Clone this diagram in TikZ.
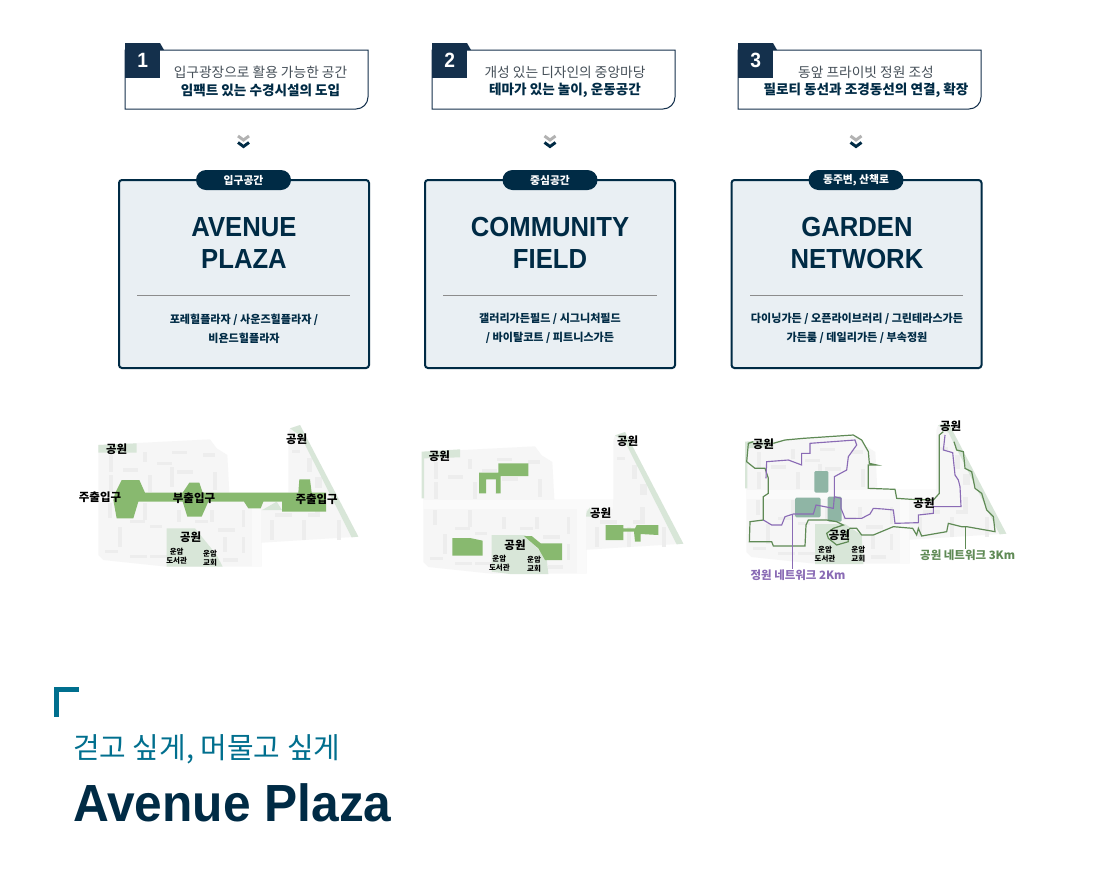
\documentclass[tikz,border=0pt]{standalone}
\usepackage{fontspec}
\setmainfont{Noto Sans CJK KR}
\newfontfamily\latinb[FakeStretch=0.93]{Liberation Sans}
\newfontfamily\latinh[FakeStretch=0.95]{Liberation Sans}
\usetikzlibrary{calc}
\definecolor{navy}{HTML}{002B45}
\definecolor{sqnavy}{HTML}{14304C}
\definecolor{panel}{HTML}{E9EFF3}
\definecolor{teal}{HTML}{006F8E}
\definecolor{sitegray}{HTML}{F6F6F6}
\definecolor{roadgray}{HTML}{FAFAFA}
\definecolor{bldgray}{HTML}{EDEDED}
\definecolor{parkgreen}{HTML}{D8E6D8}
\definecolor{areagreen}{HTML}{88B96F}
\definecolor{tealarea}{HTML}{8FB5A5}
\definecolor{netgreen}{HTML}{5F8A55}
\definecolor{netpurple}{HTML}{8A6BB5}
\definecolor{textgray}{HTML}{454F58}
\tikzset{
  callbox/.style={draw=sqnavy,line width=.75pt,fill=white},
  numsq/.style={fill=sqnavy,text=white,inner sep=0,minimum width=26.25pt,minimum height=26.25pt,font=\latinb\bfseries\fontsize{15.5}{15.5}\selectfont},
  callone/.style={text=textgray,inner sep=0,font=\fontsize{10.3}{12}\selectfont},
  calltwo/.style={text=navy,inner sep=0,font=\bfseries\fontsize{10.2}{12}\selectfont},
  card/.style={draw=navy,line width=1.5pt,fill=panel,rounded corners=2.2pt,inner sep=0,minimum width=187.5pt,minimum height=141pt},
  pill/.style={fill=navy,text=white,rounded corners=7.5pt,inner sep=0,minimum width=71.25pt,minimum height=15pt,font=\bfseries\fontsize{8.1}{10}\selectfont},
  cardtitle/.style={text=navy,inner sep=0,align=center,font=\latinb\bfseries\fontsize{20.7}{24.4}\selectfont},
  cardbody/.style={text=navy,inner sep=0,align=center,font=\bfseries\fontsize{8.3}{14.2}\selectfont},
  seprule/.style={draw=black!45,line width=.6pt},
  maplabel/.style={text=black,inner sep=0,font=\bfseries\fontsize{8.6}{10}\selectfont},
  maptiny/.style={text=black,inner sep=0,align=center,font=\bfseries\fontsize{5.6}{7}\selectfont},
  park/.style={fill=parkgreen},
  area/.style={fill=areagreen},
  tarea/.style={fill=tealarea,rounded corners=1pt},
  netg/.style={draw=netgreen,line width=.9pt},
  netp/.style={draw=netpurple,line width=.85pt},
  chevtop/.style={draw=black!30,line width=2.2pt},
  chevbot/.style={draw=navy,line width=2.2pt},
  zoomc/.style={x=.25pt,y=-.25pt}
}
\newcommand{\callout}[5]{% x, n, centre, line1, line2
  \path[callbox] (#1,50) -- (#1+243,50) -- (#1+243,97) arc[start angle=0,end angle=90,x radius=9pt,y radius=-9pt] -- (#1,109) -- cycle;
  \fill[sqnavy] (#1+35,43) -- (#1+39,50) -- (#1+35,50) -- cycle;
  \node[numsq,anchor=north west] (num#2) at (#1,43) {#2};
  \node[callone] (callA#2) at (#3,72) {#4};
  \node[calltwo] (callB#2) at (#3,90) {#5};
}
\newcommand{\chevrons}[1]{%
  \draw[chevtop] (#1-5.5,136) -- (#1,140) -- (#1+5.5,136);
  \draw[chevbot] (#1-5.5,142.5) -- (#1,146.5) -- (#1+5.5,142.5);
}
\newcommand{\basemap}[2]{%
 \begin{scope}[shift={(#1,#2)},zoomc]
  \fill[sitegray] (85,75) -- (420,58) -- (440,85) -- (472,105) -- (478,218) -- (655,218) -- (655,40) -- (660,25) -- (690,15) -- (865,350) -- (575,368) -- (575,440) -- (290,440) -- (100,420) -- (85,405) -- cycle;
  \fill[roadgray] (85,218) rectangle (655,245);
  \fill[roadgray] (545,245) rectangle (572,440);
  \foreach \a/\b/\c/\d in {118/105/12/50,118/165/12/50,115/250/12/45,145/320/12/60,235/165/12/50,220/250/10/50,220/95/12/30,430/155/12/55,300/140/12/60,260/125/45/10,160/145/45/11,305/92/45/10,320/150/50/11,400/100/35/12,180/300/45/10,240/315/35/10,180/405/50/10,240/405/50/10,105/390/40/10,445/325/50/12,460/415/45/10,515/270/10/50,515/350/10/50,600/300/12/60,695/300/12/60,800/300/12/60,615/280/50/10,715/280/35/10,665/90/25/10,710/115/15/40,735/170/20/35,735/240/15/40,320/270/12/35,420/270/12/35,460/350/12/45,375/300/40/10}
    {\fill[bldgray] (\a,\b) rectangle ++(\c,\d);}
  \fill[park] (660,25) -- (690,15) -- (865,350) -- (845,352) -- (692,48) -- cycle;
 \end{scope}
}
\begin{document}
\begin{tikzpicture}[x=.75pt,y=-.75pt]
\useasboundingbox (0,0) rectangle (1098,893);
\fill[white] (0,0) rectangle (1098,893);
% call-outs
\callout{125}{1}{260.5}{입구광장으로 활용 가능한 공간}{임팩트 있는 수경시설의 도입}
\callout{432}{2}{565}{개성 있는 디자인의 중앙마당}{테마가 있는 놀이, 운동공간}
\callout{738}{3}{866}{동앞 프라이빗 정원 조성}{필로티 동선과 조경동선의 연결, 확장}
\chevrons{243.5}\chevrons{550}\chevrons{856}
% cards
\node[card] (card1) at (244,274) {};
\node[card] (card2) at (550,274) {};
\node[card] (card3) at (856.5,274) {};
\node[pill] (pill1) at (243.5,180) {입구공간};
\node[pill] (pill2) at (550,180) {중심공간};
\node[pill] (pill3) at (856,180) {동주변, 산책로};
\node[cardtitle] (t1) at (244,243) {AVENUE\\PLAZA};
\node[cardtitle] (t2) at (550,243) {COMMUNITY\\FIELD};
\node[cardtitle] (t3) at (857,243) {GARDEN\\NETWORK};
\draw[seprule] (137,295.5) -- (350,295.5);
\draw[seprule] (443,295.5) -- (657,295.5);
\draw[seprule] (750,295.5) -- (963,295.5);
\node[cardbody] (b1) at (244,328.5) {포레힐플라자 / 사운즈힐플라자 /\\비욘드힐플라자};
\node[cardbody] (b2) at (550,328.5) {갤러리가든필드 / 시그니처필드\\/ 바이탈코트 / 피트니스가든};
\node[cardbody] (b3) at (857,328.5) {다이닝가든 / 오픈라이브러리 / 그린테라스가든\\가든룸 / 데일리가든 / 부속정원};
% map 1
\basemap{70}{420}
\begin{scope}[shift={(70,420)},zoomc]
  \path[park] (85,75) -- (200,70) -- (200,98) -- (85,98) -- cycle;
  \path[park] (290,325) -- (375,325) -- (440,405) -- (458,440) -- (290,440) -- cycle;
  \path[park] (580,268) -- (620,245) -- (636,270) -- (575,270) -- cycle;
  \path[area] (155,180) -- (208,180) -- (225,218) -- (338,218) -- (358,188) -- (388,188) -- (398,218) -- (685,218) -- (688,178) -- (720,178) -- (725,218) -- (768,218) -- (768,275) -- (636,275) -- (636,245) -- (580,245) -- (572,265) -- (535,265) -- (522,245) -- (415,245) -- (395,290) -- (352,290) -- (338,245) -- (205,245) -- (190,295) -- (140,295) -- (130,240) -- (135,220) -- cycle;
  \node[maplabel] (m1a) at (140,87) {공원};
  \node[maplabel] (m1b) at (680,57) {공원};
  \node[maplabel] (m1c) at (362,353) {공원};
  \node[maplabel] (m1d) at (90,232) {주출입구};
  \node[maplabel] (m1e) at (372,234) {부출입구};
  \node[maplabel] (m1f) at (740,237) {주출입구};
  \node[maptiny] (m1g) at (320,408) {운암\\도서관};
  \node[maptiny] (m1h) at (420,414) {운암\\교회};
\end{scope}
% map 2
\basemap{395}{427}
\begin{scope}[shift={(410,420)},zoomc]
  \path[park] (35,95) -- (150,88) -- (150,112) -- (42,115) -- (42,235) -- (35,235) -- cycle;
  \path[park] (245,345) -- (345,345) -- (410,415) -- (415,462) -- (300,462) -- (245,455) -- cycle;
  \path[park] (528,290) -- (530,275) -- (540,262) -- (545,290) -- cycle;
  \path[area] (265,130) -- (355,130) -- (355,168) -- (272,168) -- (272,220) -- (258,220) -- (258,178) -- (228,178) -- (228,220) -- (207,220) -- (207,158) -- (265,158) -- cycle;
  \path[area] (127,354) -- (180,354) -- (218,362) -- (218,407) -- (127,407) -- cycle;
  \path[area] (342,348) -- (365,348) -- (392,370) -- (456,370) -- (456,420) -- (405,420) -- (385,385) -- cycle;
  \path[area] (587,315) -- (640,315) -- (640,325) -- (675,325) -- (680,315) -- (745,315) -- (745,345) -- (692,342) -- (692,365) -- (675,365) -- (672,335) -- (640,335) -- (640,360) -- (587,360) -- cycle;
  \node[maplabel] (m2a) at (88,110) {공원};
  \node[maplabel] (m2b) at (653,64) {공원};
  \node[maplabel] (m2c) at (572,280) {공원};
  \node[maplabel] (m2d) at (315,377) {공원};
  \node[maptiny] (m2e) at (268,430) {운암\\도서관};
  \node[maptiny] (m2f) at (372,432) {운암\\교회};
\end{scope}
% map 3
\basemap{718}{417}
\begin{scope}[shift={(730,410)},zoomc]
  \path[park] (45,95) -- (130,88) -- (130,112) -- (52,115) -- (52,235) -- (45,235) -- cycle;
  \path[park] (255,342) -- (345,342) -- (395,375) -- (400,462) -- (255,462) -- cycle;
  \path[tarea] (253,183) rectangle (295,248);
  \path[tarea] (195,263) rectangle (272,322);
  \path[tarea] (293,260) rectangle (335,335);
  \path[netg] (130,100) -- (165,90) -- (220,85) -- (370,75) -- (395,90) -- (415,125) -- (418,160) -- (440,165) -- (415,165) -- (415,235) -- (495,238) -- (500,265) -- (545,268) -- (610,270) -- (628,250) -- (628,75) -- (640,65);
  \path[netg] (672,95) -- (680,120) -- (700,125) -- (705,175) -- (725,185) -- (735,235) -- (755,250) -- (770,300) -- (790,320) -- (795,365) -- (710,350) -- (695,350) -- (655,340) -- (650,365) -- (575,378) -- (565,355) -- (560,375) -- (548,355) -- (490,350) -- (430,375) -- (395,375) -- (380,355) -- (360,355) -- (350,365) -- (355,395) -- (320,405) -- (295,385) -- (290,370) -- (310,355) -- (340,345) -- (320,335) -- (290,330) -- (235,330) -- (228,345) -- (225,408) -- (130,408) -- (125,395) -- (58,395) -- (60,335) -- (100,330) -- (100,260) -- (115,250) -- (115,205) -- (105,175) -- (75,175) -- (50,155) -- (55,100) -- (70,95);
  \path[netp] (645,75) -- (640,120) -- (668,128) -- (675,195) -- (685,210) -- (690,230) -- (693,290) -- (610,290) -- (610,310) -- (565,315) -- (565,338) -- (495,340) -- (490,300) -- (460,297) -- (430,295) -- (420,312) -- (395,325) -- (345,325) -- (333,295) -- (333,265) -- (313,260) -- (313,200) -- (350,180) -- (355,140) -- (380,105) -- (375,90) -- (240,100) -- (240,130) -- (215,130) -- (215,165) -- (175,150) -- (110,155) -- (108,205);
  \path[netp] (100,330) -- (125,345) -- (155,345) -- (165,320) -- (190,312) -- (250,312) -- (258,285) -- (310,295) -- (313,260);
  \node[maplabel] (m3a) at (100,102) {공원};
  \node[maplabel] (m3b) at (662,49) {공원};
  \node[maplabel] (m3c) at (582,280) {공원};
  \node[maplabel] (m3d) at (328,377) {공원};
  \node[maptiny] (m3e) at (285,432) {운암\\도서관};
  \node[maptiny] (m3f) at (385,432) {운암\\교회};
  \node[inner sep=0,text=netpurple,font=\bfseries\fontsize{8.6}{10}\selectfont] (lp) at (204,495) {정원 네트워크 2Km};
  \node[inner sep=0,text=netgreen,font=\bfseries\fontsize{8.6}{10}\selectfont] (lg) at (713,437) {공원 네트워크 3Km};
  \coordinate (pfoot) at (188,312);
  \coordinate (gfoot) at (705,350);
  \draw[netp,line width=.5pt] (pfoot) -- (188,478);
  \draw[netg,line width=.5pt] (gfoot) -- (705,418);
\end{scope}
% heading
\fill[teal] (54,687) rectangle (79,692);
\fill[teal] (54,687) rectangle (59,717);
\node[anchor=west,inner sep=0,text=teal,font=\fontsize{21.7}{28}\selectfont] (sub) at (73,749) {걷고 싶게, 머물고 싶게};
\node[anchor=base west,inner sep=0,text=navy,font=\latinh\bfseries\fontsize{39.2}{44}\selectfont] (head) at (73,821) {Avenue Plaza};
\end{tikzpicture}
\end{document}
